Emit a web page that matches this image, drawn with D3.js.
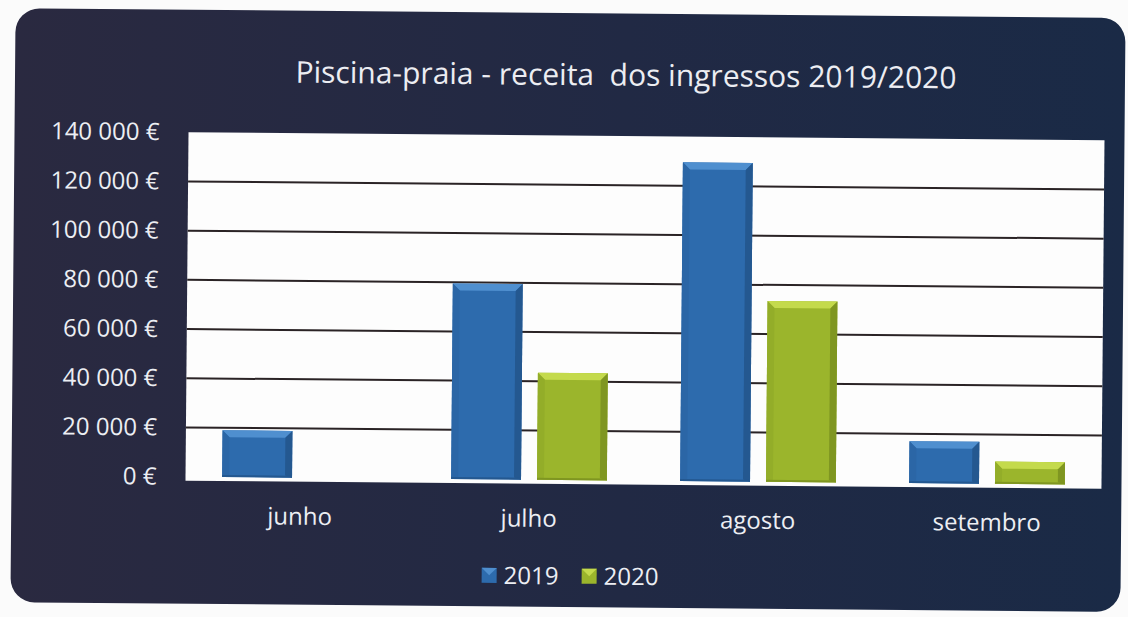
<!DOCTYPE html>
<html>
<head>
<meta charset="utf-8">
<script src="https://cdn.jsdelivr.net/npm/d3@7"></script>
<style>
  body { margin: 0; background: #fbfbfb; }
  svg { display: block; font-family: "Open Sans", "Noto Sans", sans-serif; }
</style>
</head>
<body>
<svg id="chart"></svg>
<script>
// data
const months = ["junho", "julho", "agosto", "setembro"];
const years = ["2019", "2020"];
const values2019 = [19000, 79500, 129500, 17000];
const values2020 = [0, 43500, 73500, 9000];
const yTicks = [0, 20000, 40000, 60000, 80000, 100000, 120000, 140000];
const titleText = "Piscina-praia - receita  dos ingressos 2019/2020";

let width = 1128;
let height = 617;

let svg = d3.select("#chart").attr("width", width).attr("height", height);

let defs = svg.append("defs");

let bg = defs.append("linearGradient").attr("id", "bg").attr("x1", 0).attr("x2", 1).attr("y1", 0).attr("y2", 0);
bg.append("stop").attr("offset", "0%").attr("stop-color", "#2a2940");
bg.append("stop").attr("offset", "55%").attr("stop-color", "#212944");
bg.append("stop").attr("offset", "100%").attr("stop-color", "#1a2a46");

// bevel colours per series
let palette = {
  "2019": { body: "#2d6bad", top: "#4f8fcf", side: "#2b66a6", dark: "#245890" },
  "2020": { body: "#9bb52c", top: "#c4da4c", side: "#93ad29", dark: "#7f9621" },
};

// the photo is tilted a bit, so everything is rotated slightly
let root = svg.append("g").attr("transform", "rotate(0.5, 564, 308)");

root
  .append("rect")
  .attr("x", 13)
  .attr("y", 13)
  .attr("width", 1110)
  .attr("height", 594)
  .attr("rx", 24)
  .style("fill", "url(#bg)");

root
  .append("text")
  .attr("x", 624)
  .attr("y", 85)
  .attr("text-anchor", "middle")
  .style("font-size", "30px")
  .style("white-space", "pre")
  .style("fill", "#ecedf2")
  .text(titleText);

let plotLeft = 187;
let plotRight = 1103;
let plotTop = 135.5;
let plotBottom = 480;

let x0 = d3.scaleBand().domain(months).range([plotLeft, plotRight]).paddingInner(0.32).paddingOuter(0.16);
let x1 = d3.scaleBand().domain(years).range([0, x0.bandwidth()]).paddingInner(0.186);
let y = d3.scaleLinear().domain([0, 140000]).range([plotBottom, plotTop]);

root
  .append("rect")
  .attr("x", plotLeft)
  .attr("y", y(140000))
  .attr("width", plotRight - plotLeft)
  .attr("height", y(0) - y(140000) + 4)
  .style("fill", "#fdfdfd");

root
  .append("g")
  .selectAll("line")
  .data(yTicks.filter((d) => d > 0 && d < 140000))
  .join("line")
  .attr("x1", plotLeft)
  .attr("x2", plotRight)
  .attr("y1", (d) => y(d))
  .attr("y2", (d) => y(d))
  .style("stroke", "#2a2325")
  .style("stroke-width", 2);

let locale = d3.formatLocale({ decimal: ",", thousands: " ", grouping: [3], currency: ["", " €"] });
let euro = locale.format("$,.0f");

let yAxis = root
  .append("g")
  .attr("transform", `translate(${plotLeft},0)`)
  .call(d3.axisLeft(y).tickValues(yTicks).tickFormat(euro).tickSize(0).tickPadding(29));

let xAxis = root
  .append("g")
  .attr("transform", `translate(0,${y(0)})`)
  .call(d3.axisBottom(x0).tickSize(0).tickPadding(30));

[yAxis, xAxis].forEach((ax) => {
  ax.select(".domain").remove();
  ax.selectAll("text")
    .style("font-size", "24px")
    .style("font-family", "'Open Sans', 'Noto Sans', sans-serif")
    .style("fill", "#eceef3");
});

// bars with a bevelled look
let rows = [];
months.forEach((m, i) => {
  rows.push({ month: m, year: "2019", value: values2019[i] });
  rows.push({ month: m, year: "2020", value: values2020[i] });
});

let bev = 7;
let bars = root
  .append("g")
  .selectAll("g")
  .data(rows.filter((d) => d.value > 0))
  .join("g");

function pts(arr) {
  return arr.map((p) => p.join(",")).join(" ");
}

bars.each(function (d) {
  let g = d3.select(this);
  let c = palette[d.year];
  let xa = x0(d.month) + x1(d.year);
  let xb = xa + x1.bandwidth();
  let ya = y(d.value);
  let yb = y(0);
  let b = Math.min(bev, (yb - ya) / 3);
  g.append("rect").attr("x", xa).attr("y", ya).attr("width", xb - xa).attr("height", yb - ya).style("fill", c.body);
  g.append("polygon")
    .attr("points", pts([[xa, ya], [xb, ya], [xb - b, ya + b], [xa + b, ya + b]]))
    .style("fill", c.top);
  g.append("polygon")
    .attr("points", pts([[xa, ya], [xa + b, ya + b], [xa + b, yb - 2], [xa, yb]]))
    .style("fill", c.side);
  g.append("polygon")
    .attr("points", pts([[xb, ya], [xb - b, ya + b], [xb - b, yb - 2], [xb, yb]]))
    .style("fill", c.dark);
  g.append("rect").attr("x", xa).attr("y", yb - 2).attr("width", xb - xa).attr("height", 2).style("fill", c.dark);
});

// legend
let legend = root.append("g").attr("transform", "translate(0,576)");
let legendX = [484, 584];
years.forEach((yr, i) => {
  let c = palette[yr];
  let lx = legendX[i];
  let s = 15;
  legend.append("rect").attr("x", lx).attr("y", -s / 2).attr("width", s).attr("height", s).style("fill", c.body);
  legend
    .append("polygon")
    .attr("points", pts([[lx, -s / 2], [lx + s, -s / 2], [lx + s / 2, 0]]))
    .style("fill", c.top);
  legend
    .append("text")
    .attr("x", lx + s + 7)
    .attr("y", 0)
    .attr("dy", "0.35em")
    .style("font-size", "24px")
    .style("fill", "#eceef3")
    .text(yr);
});
</script>
</body>
</html>
